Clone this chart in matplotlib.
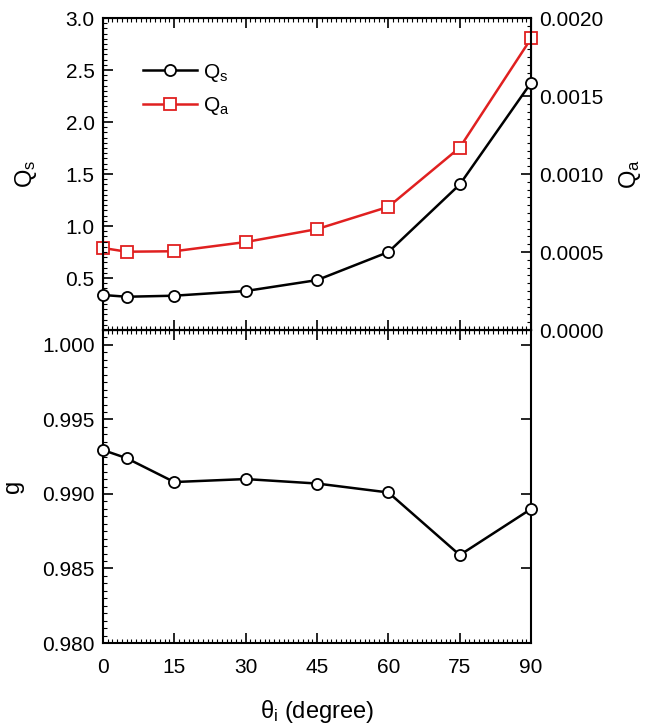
import matplotlib

matplotlib.use("Agg")
import matplotlib.pyplot as plt
from matplotlib.ticker import MultipleLocator

plt.rcParams["font.family"] = ["Liberation Sans", "DejaVu Sans"]
plt.rcParams["mathtext.fontset"] = "custom"
plt.rcParams["mathtext.rm"] = "Liberation Sans"
plt.rcParams["mathtext.it"] = "Liberation Sans"

theta = [0, 5, 15, 30, 45, 60, 75, 90]
q_s = [0.337, 0.32, 0.33, 0.375, 0.48, 0.75, 1.40, 2.38]
q_a = [0.000526, 0.000502, 0.000505, 0.000564, 0.000647, 0.00079, 0.00117, 0.00187]
g = [0.99295, 0.9924, 0.9908, 0.9910, 0.9907, 0.9901, 0.9859, 0.9890]

FS = 15
LFS = 17


def style(ax, major_y, minor_y):
    ax.xaxis.set_major_locator(MultipleLocator(15))
    ax.xaxis.set_minor_locator(MultipleLocator(1))
    ax.yaxis.set_major_locator(MultipleLocator(major_y))
    ax.yaxis.set_minor_locator(MultipleLocator(minor_y))
    ax.tick_params(which="both", direction="in", top=True, labelsize=FS, width=1.2)
    ax.tick_params(which="major", length=7, pad=6)
    ax.tick_params(which="minor", length=3, width=0.8)
    for s in ax.spines.values():
        s.set_linewidth(1.5)


fig = plt.figure(figsize=(6.47, 7.25), dpi=100)
ax_top = fig.add_axes([0.159, 0.5448, 0.662, 0.4303])
ax_bot = fig.add_axes([0.159, 0.1131, 0.662, 0.4317])

# top panel: Qs (left) and Qa (right)
style(ax_top, 0.5, 0.05)
ax_top.set_xlim(0, 90)
ax_top.set_ylim(0, 3.0)
ax_top.set_yticks([0.5, 1.0, 1.5, 2.0, 2.5, 3.0])
ax_top.set_yticklabels(["0.5", "1.0", "1.5", "2.0", "2.5", "3.0"])
ax_top.tick_params(labelbottom=False, right=False)
l1, = ax_top.plot(theta, q_s, color="black", lw=1.8, marker="o", ms=8,
                  mfc="white", mec="black", mew=1.3, clip_on=False, zorder=5,
                  label=r"Q$_\mathrm{s}$")
ax_top.set_ylabel(r"Q$_\mathrm{s}$", fontsize=LFS)
ax_top.yaxis.set_label_coords(-0.148, 0.5)

ax_r = ax_top.twinx()
ax_r.set_ylim(0, 0.002)
ax_r.yaxis.set_major_locator(MultipleLocator(0.0005))
ax_r.yaxis.set_minor_locator(MultipleLocator(0.00005))
ax_r.yaxis.set_major_formatter(plt.FormatStrFormatter("%.4f"))
ax_r.tick_params(which="both", direction="in", labelsize=FS, width=1.2)
ax_r.tick_params(which="major", length=7, pad=6)
ax_r.tick_params(which="minor", length=3, width=0.8)
l2, = ax_r.plot(theta, q_a, color="#e02020", lw=1.8, marker="s", ms=8,
                mfc="white", mec="#e02020", mew=1.3, clip_on=False, zorder=5,
                label=r"Q$_\mathrm{a}$")
ax_r.set_ylabel(r"Q$_\mathrm{a}$", fontsize=LFS)
ax_r.yaxis.set_label_coords(1.2, 0.5)
ax_top.set_zorder(ax_r.get_zorder() + 1)
ax_top.patch.set_visible(False)

ax_top.legend(handles=[l1, l2], loc="upper left", bbox_to_anchor=(0.05, 0.92),
              frameon=False, fontsize=FS, handlelength=2.6, labelspacing=0.55,
              handletextpad=0.3)

# bottom panel: g
style(ax_bot, 0.005, 0.0005)
ax_bot.tick_params(right=True)
ax_bot.set_xlim(0, 90)
ax_bot.set_ylim(0.980, 1.001)
ax_bot.yaxis.set_major_formatter(plt.FormatStrFormatter("%.3f"))
ax_bot.plot(theta, g, color="black", lw=1.8, marker="o", ms=8,
            mfc="white", mec="black", mew=1.3, clip_on=False, zorder=5)
ax_bot.set_ylabel("g", fontsize=LFS)
ax_bot.yaxis.set_label_coords(-0.185, 0.5)
ax_bot.set_xlabel(r"$\theta_\mathrm{i}$ (degree)", fontsize=LFS, labelpad=15)
ax_bot.tick_params(axis="x", pad=11)

fig.savefig("out.png", dpi=100)
